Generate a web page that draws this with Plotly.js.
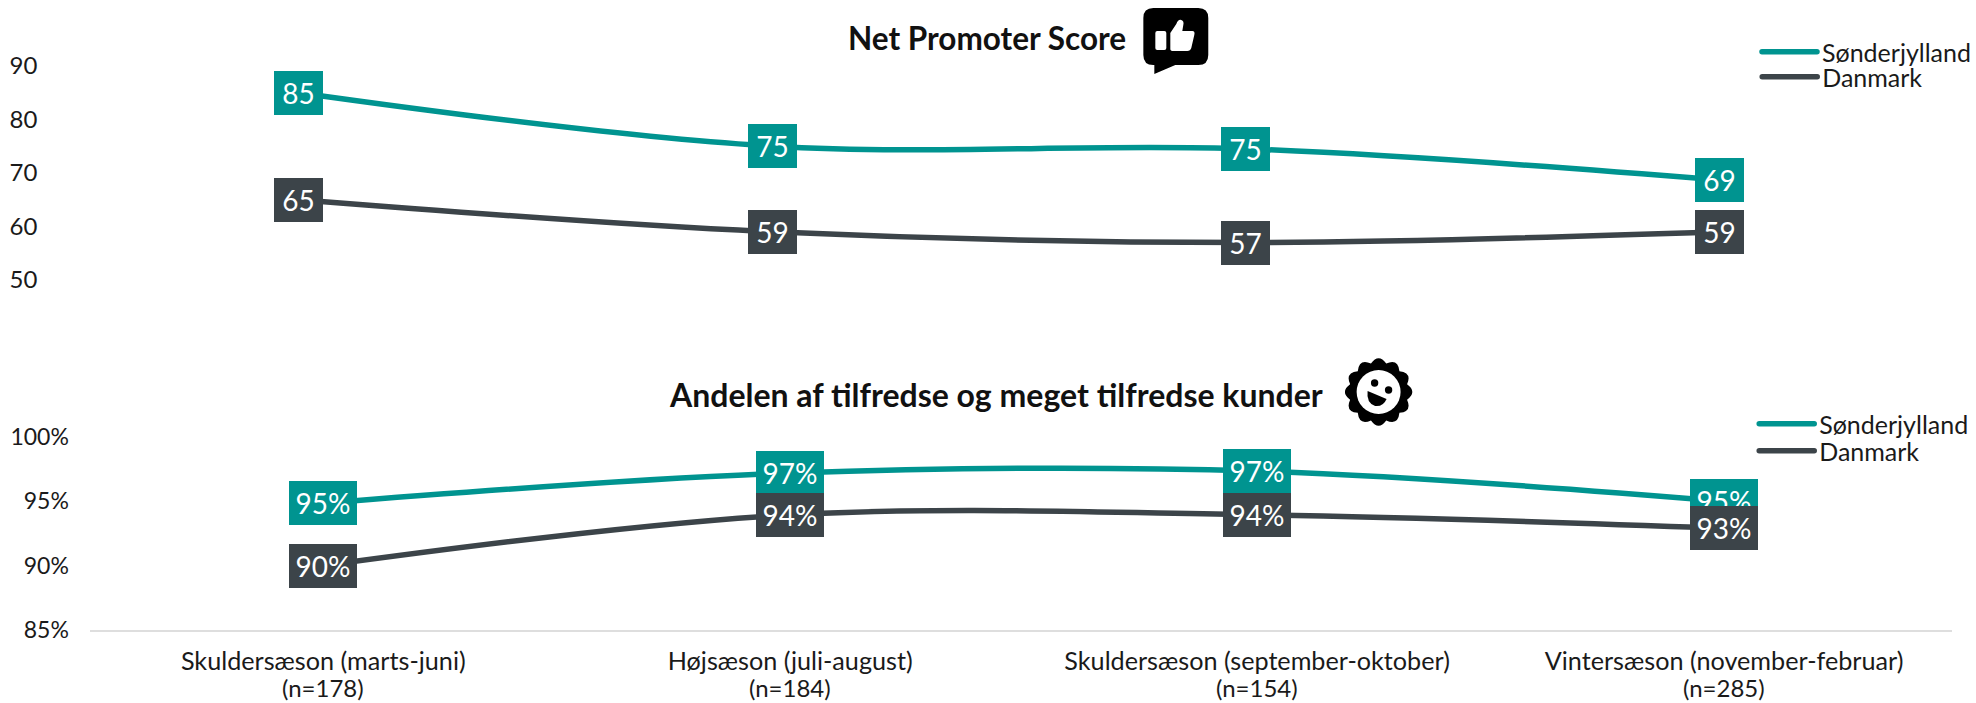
<!DOCTYPE html>
<html><head><meta charset="utf-8">
<script src="https://cdn.plot.ly/plotly-3.0.1.min.js"></script>
<style>html,body{margin:0;padding:0;background:#fff;overflow:hidden}
.legendlines path{stroke-linecap:round}</style>
</head><body><div id="chart" style="width:1976px;height:703px"></div>
<script>
const W = 1976, H = 703;
const FONT = 'Lato, sans-serif';
const TEAL = '#009490', DARK = '#3c4449', INK = '#1a1a1a';

const categories = ['Skuldersæson (marts-juni)', 'Højsæson (juli-august)', 'Skuldersæson (september-oktober)', 'Vintersæson (november-februar)'];
const sampleSizes = ['(n=178)', '(n=184)', '(n=154)', '(n=285)'];
const seriesNames = ['Sønderjylland', 'Danmark'];

const npsSonder = [85, 75, 74.5, 68.7];
const npsDanmark = [65, 59, 57, 59];
const npsSonderLabels = ['85', '75', '75', '69'];
const npsDanmarkLabels = ['65', '59', '57', '59'];

const satSonder = [94.85, 97.2, 97.35, 95];
const satDanmark = [90, 93.95, 93.95, 92.9];
const satSonderLabels = ['95%', '97%', '97%', '95%'];
const satDanmarkLabels = ['90%', '94%', '94%', '93%'];

const npsTicks = [50, 60, 70, 80, 90];
const satTicks = [85, 90, 95, 100];
const satTickLabels = ['85%', '90%', '95%', '100%'];

const titleTop = 'Net Promoter Score';
const titleBottom = 'Andelen af tilfredse og meget tilfredse kunder';

const idx = categories.map((_, i) => i);
function line(y, name, color, xa, ya, legend) {
  return {x: idx, y, name, type: 'scatter', mode: 'lines', xaxis: xa, yaxis: ya, legend,
    line: {color, width: 5.5, shape: 'spline', smoothing: 1}, hoverinfo: 'skip'};
}
const traces = [
  line(npsSonder, seriesNames[0], TEAL, 'x', 'y', 'legend'),
  line(npsDanmark, seriesNames[1], DARK, 'x', 'y', 'legend2'),
  line(satSonder, seriesNames[0], TEAL, 'x2', 'y2', 'legend3'),
  line(satDanmark, seriesNames[1], DARK, 'x2', 'y2', 'legend4')
];

function boxes(vals, labels, color, xa, ya, w) {
  return vals.map((v, i) => ({
    x: i, y: v, xref: xa, yref: ya, text: labels[i], showarrow: false,
    xanchor: 'center', yanchor: 'middle', width: w, height: 44, align: 'center', valign: 'middle',
    bgcolor: color, borderpad: 0, borderwidth: 0, font: {family: FONT, size: 28, color: '#fff'}
  }));
}
const titles = [
  {text: '<b>' + titleTop + '</b>', x: 988.5 / W, y: 1 - 38 / H, size: 31.5},
  {text: '<b>' + titleBottom + '</b>', x: 997 / W, y: 1 - 394 / H, size: 32}
].map(t => ({text: t.text, x: t.x, y: t.y, xref: 'paper', yref: 'paper', showarrow: false, xanchor: 'center', yanchor: 'middle',
  font: {family: FONT, size: t.size, color: '#111'}}));
const nLabels = sampleSizes.map((s, i) => ({x: i, xref: 'x2', y: 1 - 687 / H, yref: 'paper', text: s, showarrow: false,
  xanchor: 'center', yanchor: 'middle', font: {family: FONT, size: 24, color: INK}}));

const thumbSvg = `<svg xmlns="http://www.w3.org/2000/svg" width="80" height="80" viewBox="0 0 80 80">
<path d="M17 8H62Q72 8 72 18V55Q72 65 62 65H39L18 74V65H17Q7 65 7 55V18Q7 8 17 8Z" fill="#000"/>
<rect x="19" y="31" width="11" height="19" rx="2" fill="#fff"/>
<path d="M34 33L40 24Q42 19 45 20Q48 21 47 25L46 31H56Q59 31 58 35L55 48Q54 51 51 51H37Q34 51 34 49Z" fill="#fff"/></svg>`;

function scallop(cx, cy, r1, r2, n) {
  let d = '';
  for (let i = 0; i < n; i++) {
    const a0 = 2 * Math.PI * i / n - Math.PI / 2 - Math.PI / n, am = a0 + Math.PI / n, a1 = a0 + 2 * Math.PI / n;
    if (i === 0) d += `M${cx + r2 * Math.cos(a0)} ${cy + r2 * Math.sin(a0)}`;
    d += `Q${cx + r1 * Math.cos(am)} ${cy + r1 * Math.sin(am)} ${cx + r2 * Math.cos(a1)} ${cy + r2 * Math.sin(a1)}`;
  }
  return d + 'Z';
}
const smileSvg = `<svg xmlns="http://www.w3.org/2000/svg" width="80" height="80" viewBox="0 0 80 80">
<path d="${scallop(42.5, 42, 39, 29.5, 12)}" fill="#000"/>
<circle cx="42.5" cy="42" r="22" fill="#fff"/>
<circle cx="38.5" cy="33" r="3.7" fill="#000"/><circle cx="52.5" cy="40" r="3.7" fill="#000"/>
<path d="M31.5 41L50.5 49Q47 57 39 56Q30 53 31.5 41Z" fill="#000"/></svg>`;
const uri = s => 'data:image/svg+xml;charset=utf-8,' + encodeURIComponent(s);
const icon = (s, px, py) => ({source: uri(s), xref: 'paper', yref: 'paper', x: px / W, y: 1 - py / H,
  sizex: 80 / W, sizey: 80 / H, xanchor: 'left', yanchor: 'top', sizing: 'stretch', layer: 'above'});

const legendAt = (px, py) => ({x: px / W, y: 1 - py / H, xanchor: 'left', yanchor: 'middle', bgcolor: 'rgba(0,0,0,0)', borderwidth: 0, itemwidth: 55,
  traceorder: 'normal', orientation: 'v', font: {family: FONT, size: 25, color: INK}, itemclick: false, itemdoubleclick: false});

const layout = {
  width: W, height: H, margin: {l: 0, r: 0, t: 0, b: 0}, paper_bgcolor: '#fff', plot_bgcolor: 'rgba(0,0,0,0)',
  showlegend: true, hovermode: false,
  font: {family: FONT, size: 24, color: INK},
  xaxis: {domain: [60.5 / W, 1956.5 / W], range: [-0.503, 3.497], anchor: 'y', showline: false, showgrid: false, zeroline: false, showticklabels: false, ticks: ''},
  yaxis: {domain: [1 - 280 / H, 1 - 66 / H], range: [50, 90], anchor: 'x', tickvals: npsTicks, ticktext: npsTicks.map(String), showline: false, showgrid: false, zeroline: false, ticks: '', ticklabelstandoff: 22, tickfont: {family: FONT, size: 24, color: INK}},
  xaxis2: {domain: [90 / W, 1954 / W], range: [-0.4998, 3.4882], anchor: 'y2', tickvals: idx, ticktext: categories, showline: true, linecolor: '#dedede', linewidth: 2, showgrid: false, zeroline: false, ticks: '', ticklabelstandoff: 8, tickfont: {family: FONT, size: 25.2, color: INK}},
  yaxis2: {domain: [1 - 630 / H, 1 - 437 / H], range: [85, 100], anchor: 'x2', tickvals: satTicks, ticktext: satTickLabels, showline: false, showgrid: false, zeroline: false, ticks: '', ticklabelstandoff: 20, tickfont: {family: FONT, size: 23, color: INK}},
  legend: legendAt(1759, 52),
  legend2: legendAt(1759, 77),
  legend3: legendAt(1756, 424),
  legend4: legendAt(1756, 451),
  annotations: [].concat(
    boxes(npsSonder, npsSonderLabels, TEAL, 'x', 'y', 49),
    boxes(npsDanmark, npsDanmarkLabels, DARK, 'x', 'y', 49),
    boxes(satSonder, satSonderLabels, TEAL, 'x2', 'y2', 68),
    boxes(satDanmark, satDanmarkLabels, DARK, 'x2', 'y2', 68),
    titles, nLabels),
  images: [icon(thumbSvg, 1137.5, 0), icon(smileSvg, 1337.5, 350)]
};
Plotly.newPlot('chart', traces, layout, {staticPlot: true, displayModeBar: false});
</script></body></html>
